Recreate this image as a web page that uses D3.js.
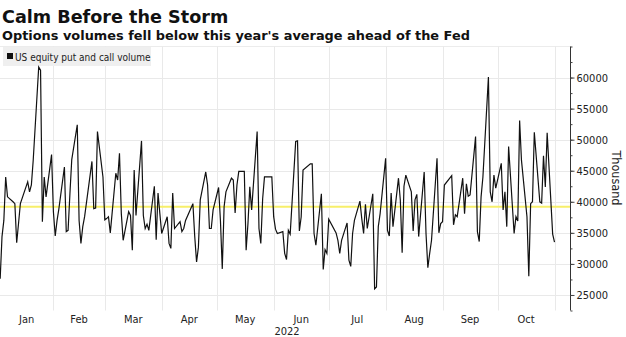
<!DOCTYPE html>
<html>
<head>
<meta charset="utf-8">
<script src="https://d3js.org/d3.v7.min.js"></script>
<style>
  html, body { margin: 0; padding: 0; background: #fff; }
  svg { display: block; }
  .title { font-family: "DejaVu Sans", sans-serif; font-weight: bold; fill: #111; }
  .tick text, .lbl { font-family: "DejaVu Sans Condensed", "DejaVu Sans", sans-serif; fill: #222; }
</style>
</head>
<body>
<svg id="chart" width="626" height="337"></svg>
<script>
// Daily US equity put and call volume, thousands of contracts, by month
const jan = [27.6, 34.4, 37.0, 44.0, 40.8, 40.0, 39.7, 33.4, 36.5, 39.7, 43.2, 41.6, 42.7, 46.7, 61.7, 61.2, 36.8, 44.0, 40.8, 47.6];
const feb = [38.4, 34.5, 37.0, 38.9, 45.6, 35.2, 35.4, 41.3, 46.8, 52.4, 37.0, 33.3, 36.0, 37.6, 46.5, 38.9, 39.0, 51.3, 44.0];
const mar = [37.1, 37.3, 37.6, 35.0, 44.6, 43.5, 47.8, 38.1, 33.8, 38.4, 37.8, 32.2, 45.1, 37.8, 49.8, 37.8, 35.7, 36.4, 35.4, 42.5, 33.9, 41.4, 38.1];
const apr = [34.9, 37.6, 33.3, 32.5, 41.4, 35.7, 36.8, 35.2, 35.7, 37.0, 39.7, 34.4, 30.3, 32.7, 40.3, 44.8, 42.7, 35.7, 35.7, 38.7];
const may = [42.3, 37.0, 29.2, 39.2, 41.6, 43.8, 43.5, 38.2, 42.7, 44.9, 44.9, 32.2, 36.5, 42.4, 38.7, 51.3, 35.7, 33.3, 40.5, 44.0, 44.0];
const jun = [37.6, 35.6, 34.9, 35.2, 31.7, 30.7, 35.4, 34.8, 49.7, 49.8, 35.3, 37.6, 45.1, 46.1, 46.1, 34.9, 33.0, 41.3, 29.1, 32.3, 31.7];
const jul = [37.2, 35.0, 33.8, 31.7, 33.8, 36.6, 30.6, 29.6, 34.9, 37.0, 40.1, 37.3, 34.9, 39.6, 35.7, 41.3, 26.0, 26.3, 36.0, 38.1];
const aug = [47.0, 35.4, 34.5, 41.4, 36.0, 43.8, 40.3, 31.8, 42.5, 44.3, 41.6, 35.3, 40.3, 41.2, 34.4, 44.8, 34.9, 29.4, 31.7, 33.8, 47.0, 35.0, 36.5];
const sep = [36.8, 42.7, 44.2, 36.3, 37.9, 37.6, 43.8, 38.1, 42.9, 40.9, 41.1, 50.5, 35.2, 33.6, 40.8, 44.0, 60.1, 41.6, 40.0, 44.3, 42.2];
const oct = [46.2, 38.7, 41.6, 36.0, 48.9, 34.9, 37.6, 36.9, 53.1, 46.7, 37.6, 28.0, 39.7, 40.0, 51.2, 40.0, 39.8, 47.4, 42.4, 51.1, 34.8];
const nov = [33.5];

const monthValues = [jan, feb, mar, apr, may, jun, jul, aug, sep, oct, nov];
const holidays = ["2022-01-17", "2022-02-21", "2022-04-15", "2022-05-30", "2022-06-20", "2022-07-04", "2022-09-05"];
const yearAverage = [39.2];
const yTicks = [25000, 30000, 35000, 40000, 45000, 50000, 55000, 60000];
const monthLabels = ["Jan", "Feb", "Mar", "Apr", "May", "Jun", "Jul", "Aug", "Sep", "Oct"];

// trading days of each month, paired with that month's values
const fmt = d3.timeFormat("%Y-%m-%d");
const data = [];
monthValues.forEach((vals, m) => {
  const days = d3.timeDays(new Date(2022, m, 1), new Date(2022, m + 1, 1))
    .filter(d => d.getDay() !== 0 && d.getDay() !== 6 && !holidays.includes(fmt(d)));
  vals.forEach((v, i) => data.push({ date: days[i], value: v * 1000 }));
});

const svg = d3.select("#chart");
const W = 626, H = 337;
const plotL = 0, plotR = 570, plotT = 46.5, plotB = 310.5;

const x = d3.scaleTime()
  .domain([new Date(2022, 0, 1), new Date(2022, 10, 1)])
  .range([-3.5, 554.5]);
const y = d3.scaleLinear().domain([22500, 65000]).range([plotB, plotT]);

svg.append("rect").attr("width", W).attr("height", H).attr("fill", "#fff");

// titles
svg.append("text").attr("class", "title").attr("x", 2).attr("y", 23)
  .style("font-size", "17.6px").text("Calm Before the Storm");
svg.append("text").attr("class", "title").attr("x", 2).attr("y", 40)
  .style("font-size", "12.9px").text("Options volumes fell below this year's average ahead of the Fed");

// grid
const grid = svg.append("g");
grid.selectAll(".hg").data(yTicks).join("line")
  .attr("x1", plotL).attr("x2", plotR)
  .attr("y1", d => Math.round(y(d)) + 0.5).attr("y2", d => Math.round(y(d)) + 0.5)
  .attr("stroke", "#e9e9e9").attr("stroke-width", 1);
grid.append("line").attr("x1", plotL).attr("x2", plotR)
  .attr("y1", plotT).attr("y2", plotT).attr("stroke", "#ececec");
const monthStarts = d3.timeMonths(new Date(2022, 1, 1), new Date(2022, 10, 2));
grid.selectAll(".vg").data(monthStarts).join("line")
  .attr("x1", d => Math.round(x(d)) + 0.5).attr("x2", d => Math.round(x(d)) + 0.5)
  .attr("y1", plotT).attr("y2", plotB)
  .attr("stroke", "#e9e9e9");

// legend
svg.append("rect").attr("x", 3).attr("y", 47).attr("width", 148).attr("height", 19).attr("fill", "#efefef");
svg.append("rect").attr("x", 7).attr("y", 53).attr("width", 6).attr("height", 6).attr("fill", "#111");
svg.append("text").attr("class", "lbl").attr("x", 15).attr("y", 60.5)
  .style("font-size", "10px").text("US equity put and call volume");

// average line
svg.append("line")
  .attr("x1", plotL).attr("x2", plotR)
  .attr("y1", y(yearAverage[0] * 1000)).attr("y2", y(yearAverage[0] * 1000))
  .attr("stroke", "#f7ef6a").attr("stroke-width", 1.8);

// series
svg.append("clipPath").attr("id", "plot")
  .append("rect").attr("x", plotL).attr("y", plotT).attr("width", plotR - plotL).attr("height", plotB - plotT);
svg.append("path").datum(data)
  .attr("clip-path", "url(#plot)")
  .attr("fill", "none").attr("stroke", "#111").attr("stroke-width", 1.2)
  .attr("stroke-linejoin", "miter")
  .attr("d", d3.line().x(d => x(d.date)).y(d => y(d.value)));

// right axis
const minor = d3.range(22500, 65001, 2500);
const yAxisMinor = d3.axisRight(y).tickValues(minor).tickSize(2).tickFormat("");
svg.append("g").attr("transform", `translate(${plotR + 0.5},0)`).call(yAxisMinor)
  .call(g => g.select(".domain").attr("stroke", "#333").attr("d", `M0,${plotT}V${plotB}`))
  .call(g => g.selectAll(".tick line").attr("stroke", "#444"));
const yAxis = d3.axisRight(y).tickValues(yTicks).tickSize(4).tickPadding(2).tickFormat(d3.format("d"));
svg.append("g").attr("transform", `translate(${plotR + 0.5},0)`).call(yAxis)
  .call(g => g.select(".domain").remove())
  .call(g => g.selectAll(".tick line").attr("stroke", "#444"))
  .call(g => g.selectAll(".tick text").style("font-size", "11px"));

svg.append("text").attr("class", "lbl")
  .attr("transform", `translate(612,178) rotate(90)`)
  .attr("text-anchor", "middle").style("font-size", "12.5px").text("Thousand");

// month labels, centred in the visible part of each month
svg.selectAll(".ml").data(monthLabels).join("text").attr("class", "lbl")
  .attr("x", (d, i) => {
    const a = Math.max(x(new Date(2022, i, 1)), 0);
    const b = x(new Date(2022, i + 1, 1));
    return (a + b) / 2;
  })
  .attr("y", 323).attr("text-anchor", "middle").style("font-size", "11px").text(d => d);
svg.append("text").attr("class", "lbl").attr("x", 287).attr("y", 335)
  .attr("text-anchor", "middle").style("font-size", "11px").text("2022");
</script>
</body>
</html>
